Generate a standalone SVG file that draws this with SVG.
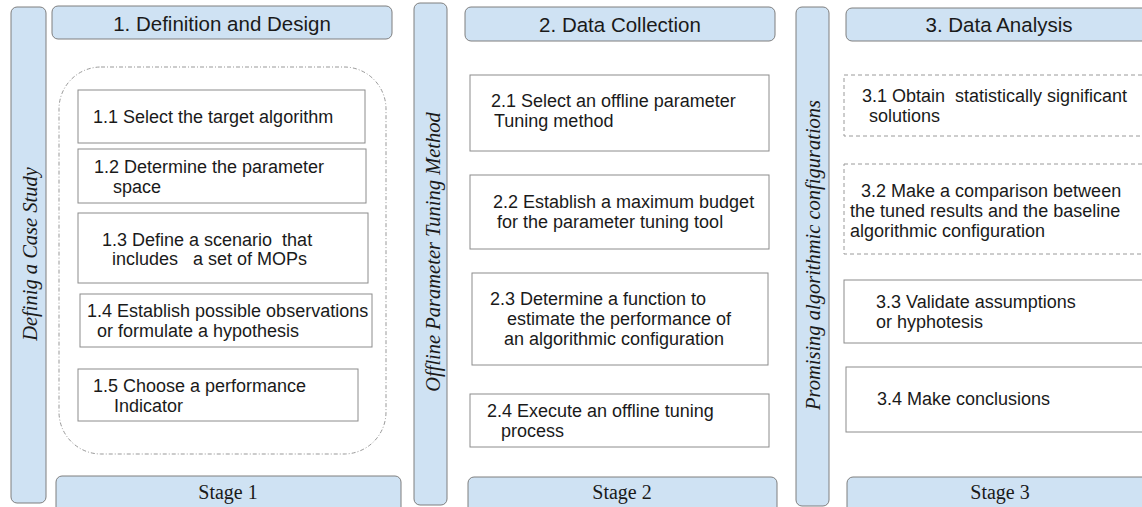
<svg xmlns="http://www.w3.org/2000/svg" width="1142" height="507" viewBox="0 0 1142 507">
<style>
.band{fill:#cfe2f3;stroke:#7f7f7f;stroke-width:1}
.box{fill:#ffffff;stroke:#8c8c8c;stroke-width:1}
.dbox{fill:#ffffff;stroke:#9a9a9a;stroke-width:1;stroke-dasharray:4 3}
.group{fill:none;stroke:#999999;stroke-width:1;stroke-dasharray:4 2 1 2}
.h{font-family:"Liberation Sans",Arial,sans-serif;font-size:20.5px;fill:#1a1a1a;text-anchor:middle}
.t{font-family:"Liberation Sans",Arial,sans-serif;font-size:18px;fill:#1a1a1a;white-space:pre}
.s{font-family:"Liberation Serif","Times New Roman",serif;font-size:20px;fill:#1a1a1a;text-anchor:middle}
.v{font-family:"Liberation Serif","Times New Roman",serif;font-size:20.5px;font-style:italic;fill:#1a1a1a;text-anchor:middle}
</style>
<rect width="1142" height="507" fill="#ffffff"/>

<g id="side1"><rect class="band" x="11" y="7" width="35" height="496" rx="6"/><text class="v" transform="translate(37,254) rotate(-90)">Definig a Case Study</text></g>
<g id="side2"><rect class="band" x="414" y="3" width="33" height="502" rx="6"/><text class="v" transform="translate(440,252) rotate(-90)">Offline Parameter Tuning Method</text></g>
<g id="side3"><rect class="band" x="796" y="7" width="33" height="499" rx="6"/><text class="v" transform="translate(820,255) rotate(-90)">Promising algorithmic configurations</text></g>

<g id="header1"><rect class="band" x="52" y="6" width="340" height="33" rx="6"/><text class="h" x="222" y="31">1. Definition and Design</text></g>
<g id="header2"><rect class="band" x="465" y="7" width="310" height="34" rx="6"/><text class="h" x="620" y="32">2. Data Collection</text></g>
<g id="header3"><rect class="band" x="846" y="8" width="306" height="33" rx="6"/><text class="h" x="999" y="32">3. Data Analysis</text></g>

<g id="stage1"><rect class="band" x="56" y="476" width="345" height="45" rx="6"/><text class="s" x="228" y="499">Stage 1</text></g>
<g id="stage2"><rect class="band" x="468" y="477" width="309" height="45" rx="6"/><text class="s" x="622" y="499">Stage 2</text></g>
<g id="stage3"><rect class="band" x="847" y="477" width="306" height="45" rx="6"/><text class="s" x="1000" y="499">Stage 3</text></g>

<g id="group1"><rect class="group" x="59" y="67" width="327" height="387" rx="42"/></g>

<g id="n1_1"><rect class="box" x="78" y="90" width="287" height="53"/><text class="t" x="93" y="123">1.1 Select the target algorithm</text></g>
<g id="n1_2"><rect class="box" x="78" y="149" width="288" height="54"/><text class="t"><tspan x="94" y="173">1.2 Determine the parameter</tspan><tspan x="113" y="193">space</tspan></text></g>
<g id="n1_3"><rect class="box" x="78" y="213" width="290" height="70"/><text class="t"><tspan x="102" y="246">1.3 Define a scenario  that</tspan><tspan x="112" y="265">includes   a set of MOPs</tspan></text></g>
<g id="n1_4"><rect class="box" x="80" y="294" width="292" height="53"/><text class="t"><tspan x="87" y="317">1.4 Establish possible observations</tspan><tspan x="97" y="337">or formulate a hypothesis</tspan></text></g>
<g id="n1_5"><rect class="box" x="78" y="369" width="280" height="52"/><text class="t"><tspan x="93" y="392">1.5 Choose a performance</tspan><tspan x="114" y="412">Indicator</tspan></text></g>

<g id="n2_1"><rect class="box" x="470" y="75" width="299" height="76"/><text class="t"><tspan x="491" y="107">2.1 Select an offline parameter</tspan><tspan x="494" y="127">Tuning method</tspan></text></g>
<g id="n2_2"><rect class="box" x="470" y="175" width="299" height="74"/><text class="t"><tspan x="493" y="208">2.2 Establish a maximum budget</tspan><tspan x="497" y="228">for the parameter tuning tool</tspan></text></g>
<g id="n2_3"><rect class="box" x="472" y="273" width="296" height="92"/><text class="t"><tspan x="490" y="305">2.3 Determine a function to</tspan><tspan x="507" y="325">estimate the performance of</tspan><tspan x="504" y="345">an algorithmic configuration</tspan></text></g>
<g id="n2_4"><rect class="box" x="470" y="394" width="299" height="53"/><text class="t"><tspan x="487" y="417">2.4 Execute an offline tuning</tspan><tspan x="501" y="437">process</tspan></text></g>

<g id="n3_1"><rect class="dbox" x="844" y="75" width="310" height="61"/><text class="t"><tspan x="862" y="102">3.1 Obtain  statistically significant</tspan><tspan x="869" y="122">solutions</tspan></text></g>
<g id="n3_2"><rect class="dbox" x="844" y="164" width="310" height="90"/><text class="t"><tspan x="861" y="197">3.2 Make a comparison between</tspan><tspan x="850" y="217">the tuned results and the baseline</tspan><tspan x="850" y="237">algorithmic configuration</tspan></text></g>
<g id="n3_3"><rect class="box" x="844" y="280" width="310" height="63"/><text class="t"><tspan x="876" y="308">3.3 Validate assumptions</tspan><tspan x="876" y="328">or hyphotesis</tspan></text></g>
<g id="n3_4"><rect class="box" x="846" y="367" width="308" height="65"/><text class="t" x="877" y="405">3.4 Make conclusions</text></g>

<g id="connectors"></g>
</svg>
